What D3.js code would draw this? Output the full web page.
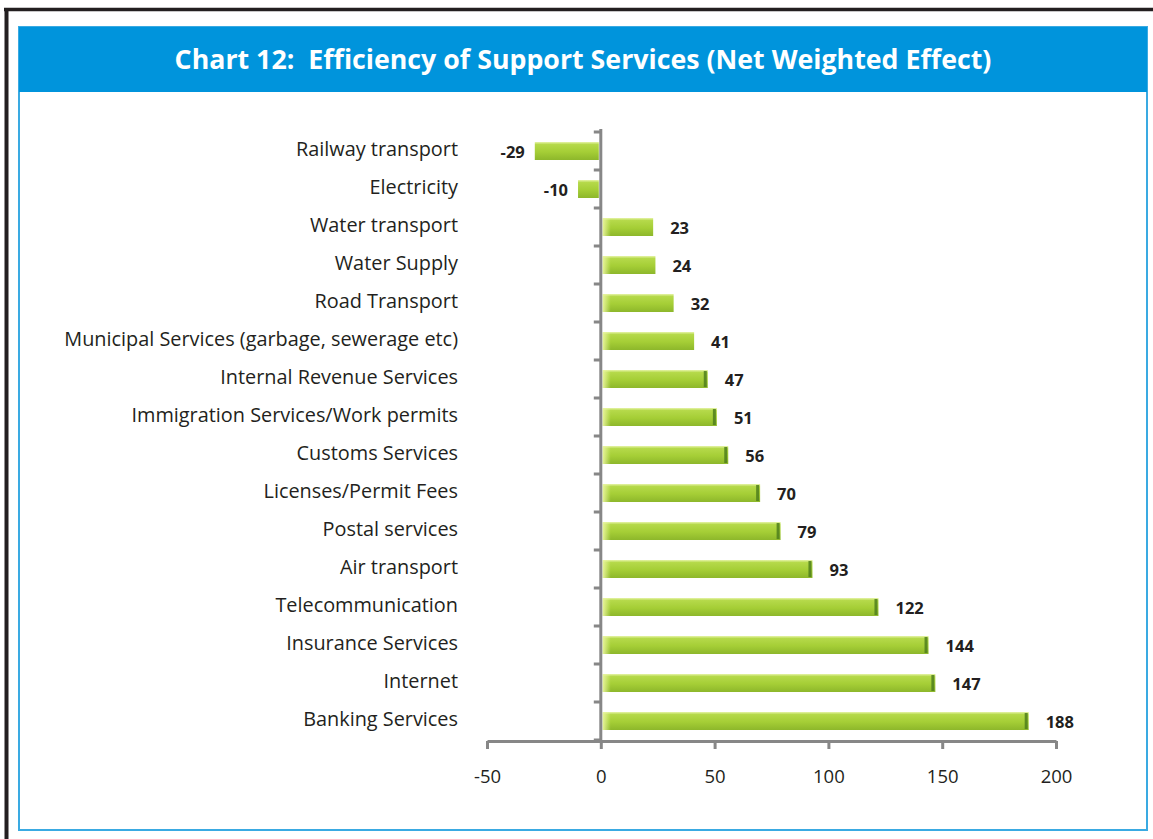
<!DOCTYPE html>
<html>
<head>
<meta charset="utf-8">
<script src="https://cdn.jsdelivr.net/npm/d3@7"></script>
<style>
  html, body { margin: 0; padding: 0; background: #fff; }
  svg { display: block; }
  text { font-family: "Open Sans", "Noto Sans", "DejaVu Sans", sans-serif; font-variant-ligatures: none; }
</style>
</head>
<body>
<svg id="chart" width="1153" height="839"></svg>
<script>
// Services, top to bottom as listed
const categories = [
  "Railway transport",
  "Electricity",
  "Water transport",
  "Water Supply",
  "Road Transport",
  "Municipal Services (garbage, sewerage etc)",
  "Internal Revenue Services",
  "Immigration Services/Work permits",
  "Customs Services",
  "Licenses/Permit Fees",
  "Postal services",
  "Air transport",
  "Telecommunication",
  "Insurance Services",
  "Internet",
  "Banking Services"
];
// Net weighted effect per service
const netEffect = [-29, -10, 23, 24, 32, 41, 47, 51, 56, 70, 79, 93, 122, 144, 147, 188];
const xTicks = [-50, 0, 50, 100, 150, 200];
const titleText = "Chart 12:  Efficiency of Support Services (Net Weighted Effect)";

const data = categories.map((c, i) => ({ name: c, value: netEffect[i] }));

const svg = d3.select("#chart");
const W = 1153, H = 839;

// scale a text element's font size so it spans the given width
function fitWidth(sel, target) {
  const node = sel.node();
  const size = parseFloat(sel.attr("font-size"));
  const w = node.getComputedTextLength();
  if (w > 0) sel.attr("font-size", (size * target / w).toFixed(2));
}

svg.append("rect").attr("width", W).attr("height", H).attr("fill", "#fff");

// Outer page frame (top and left edges)
svg.append("line").attr("x1", 4).attr("x2", W).attr("y1", 9.5).attr("y2", 9.5)
  .attr("stroke", "#231f20").attr("stroke-width", 3.5);
svg.append("line").attr("x1", 6.5).attr("x2", 6.5).attr("y1", 8).attr("y2", H)
  .attr("stroke", "#231f20").attr("stroke-width", 4);

// Chart panel
svg.append("rect").attr("x", 19).attr("y", 27).attr("width", 1128).attr("height", 803)
  .attr("fill", "#fff").attr("stroke", "#3aaae2").attr("stroke-width", 2);
svg.append("rect").attr("x", 19).attr("y", 27).attr("width", 1128).attr("height", 65)
  .attr("fill", "#0094dc");
const title = svg.append("text")
  .attr("x", 583).attr("y", 58.5)
  .attr("text-anchor", "middle").attr("dominant-baseline", "central")
  .attr("fill", "#fff").attr("font-weight", 700).attr("font-size", 24)
  .style("white-space", "pre")
  .text(titleText);
fitWidth(title, 817);

// Scales
const x = d3.scaleLinear().domain([-50, 200]).range([487, 1056]);
const y = d3.scaleBand().domain(categories).range([132, 740]).padding(0);
const barH = 18;

// Gradients for the bars
const defs = svg.append("defs");
const vGrad = defs.append("linearGradient").attr("id", "barV")
  .attr("x1", 0).attr("x2", 0).attr("y1", 0).attr("y2", 1);
vGrad.append("stop").attr("offset", "0%").attr("stop-color", "#e6f4a8");
vGrad.append("stop").attr("offset", "14%").attr("stop-color", "#b5d94a");
vGrad.append("stop").attr("offset", "55%").attr("stop-color", "#a5ce36");
vGrad.append("stop").attr("offset", "100%").attr("stop-color", "#8db72b");

const endGrad = defs.append("linearGradient").attr("id", "barEnd")
  .attr("x1", 0).attr("x2", 1).attr("y1", 0).attr("y2", 0);
endGrad.append("stop").attr("offset", "0%").attr("stop-color", "#e9f59c").attr("stop-opacity", 0.95);
endGrad.append("stop").attr("offset", "100%").attr("stop-color", "#e9f59c").attr("stop-opacity", 0);

const bars = svg.append("g").selectAll("g").data(data).join("g");

bars.append("rect")
  .attr("x", d => x(Math.min(0, d.value)) + (d.value > 0 ? 2 : 0))
  .attr("y", d => y(d.name) + y.bandwidth() / 2 - barH / 2)
  .attr("width", d => Math.abs(x(d.value) - x(0)) - 2)
  .attr("height", barH)
  .attr("fill", "url(#barV)");

// pale starting edge of positive bars
bars.filter(d => d.value > 0).append("rect")
  .attr("x", x(0) + 2)
  .attr("y", d => y(d.name) + y.bandwidth() / 2 - barH / 2)
  .attr("width", 8)
  .attr("height", barH)
  .attr("fill", "url(#barEnd)");

// darker cap at the end of longer positive bars
bars.filter(d => d.value >= 45).append("rect")
  .attr("x", d => x(d.value) - 4)
  .attr("y", d => y(d.name) + y.bandwidth() / 2 - barH / 2 + 1)
  .attr("width", 3)
  .attr("height", barH - 2)
  .attr("fill", "#4f7f1c")
  .attr("opacity", 0.85);

// Value labels
bars.append("text")
  .attr("x", d => d.value >= 0 ? x(d.value) + 17 : x(d.value) - 10)
  .attr("y", d => y(d.name) + y.bandwidth() / 2)
  .attr("text-anchor", d => d.value >= 0 ? "start" : "end")
  .attr("dominant-baseline", "central")
  .attr("font-weight", 700).attr("font-size", 16.5).attr("fill", "#231f20")
  .text(d => d.value);

// Category labels
const catLabels = svg.append("g").selectAll("text").data(categories).join("text")
  .attr("x", 458)
  .attr("y", d => y(d) + y.bandwidth() / 2 - 2.5)
  .attr("text-anchor", "end").attr("dominant-baseline", "central")
  .attr("font-size", 18).attr("fill", "#231f20")
  .text(d => d);
// size all category labels from the longest one
const longest = catLabels.filter(d => d === categories[5]);
fitWidth(longest, 394);
catLabels.attr("font-size", longest.attr("font-size"));

// Category axis at zero with ticks between categories
const axisColor = "#878787";
const boundaries = categories.map(c => y(c)).concat([y.range()[1]]);
const yAxis = svg.append("g");
yAxis.append("line").attr("x1", x(0)).attr("x2", x(0))
  .attr("y1", 129).attr("y2", 741)
  .attr("stroke", axisColor).attr("stroke-width", 3);
yAxis.selectAll("line.tk").data(boundaries).join("line").attr("class", "tk")
  .attr("x1", x(0) - 7).attr("x2", x(0))
  .attr("y1", d => d).attr("y2", d => d)
  .attr("stroke", axisColor).attr("stroke-width", 3);

// Value axis
const xAxis = svg.append("g").attr("transform", "translate(0,741)")
  .call(d3.axisBottom(x).tickValues(xTicks).tickFormat(d => String(d))
    .tickSize(8).tickPadding(21).tickSizeOuter(0));
xAxis.select(".domain").attr("stroke", axisColor).attr("stroke-width", 3);
xAxis.selectAll(".tick line").attr("stroke", axisColor).attr("stroke-width", 3);
xAxis.selectAll(".tick text")
  .attr("font-family", "'Open Sans', 'Noto Sans', sans-serif")
  .attr("font-size", 18.5).attr("fill", "#231f20");
</script>
</body>
</html>
